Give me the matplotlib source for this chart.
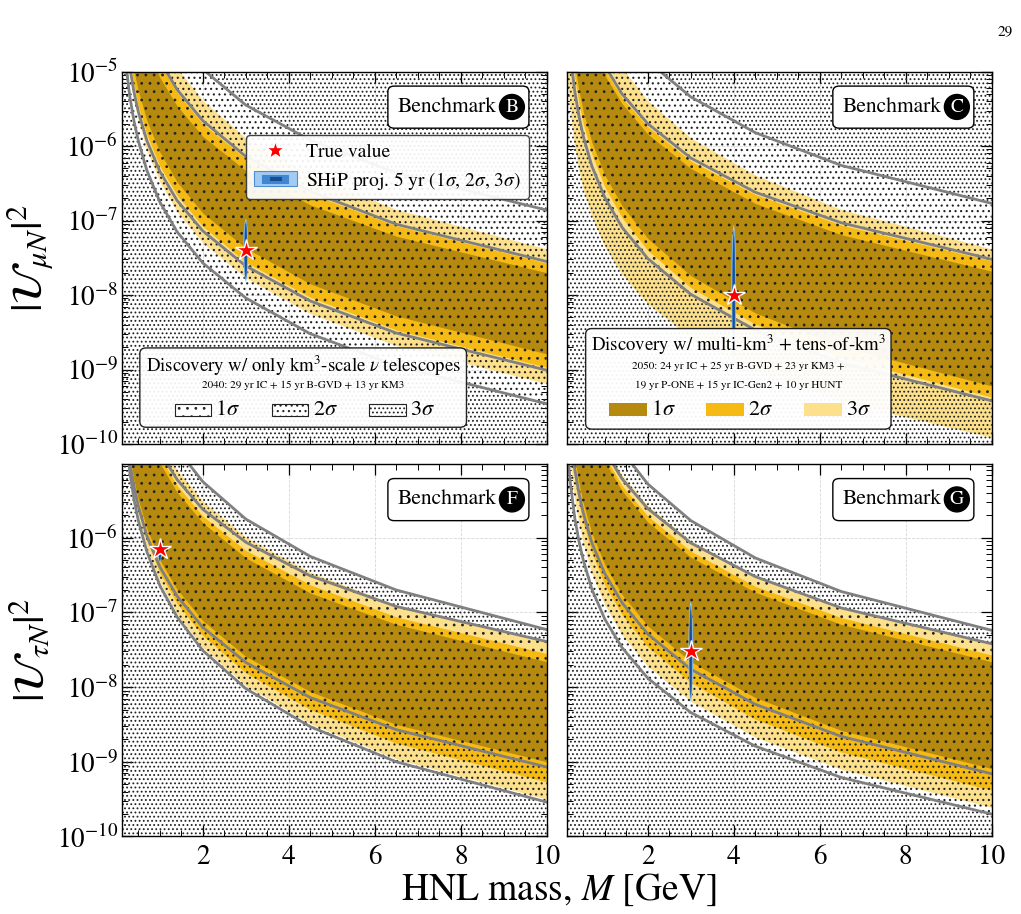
import matplotlib
matplotlib.use("Agg")
import matplotlib.pyplot as plt
import numpy as np
from matplotlib.patches import Rectangle, FancyBboxPatch
from matplotlib.lines import Line2D
from matplotlib.legend_handler import HandlerBase
from matplotlib.ticker import MultipleLocator, LogLocator, FixedLocator, NullFormatter

plt.rcParams['font.family'] = 'serif'
plt.rcParams['font.serif'] = ['STIXGeneral']
plt.rcParams['mathtext.fontset'] = 'stix'
plt.rcParams['hatch.linewidth'] = 0.8
plt.rcParams['hatch.color'] = '#222222'

# HNL mass grid [GeV] on which the contours were read
mass = [0.1, 0.15, 0.2, 0.3, 0.4, 0.5, 0.7, 1.0, 1.4, 2.0, 3.0, 4.5, 6.5, 10.0]

# log10 |U|^2
# benchmark B (mu): grey km3 contours a..d, coloured bands 1,2,3 sigma
B_line_a = [-1.46, -1.94, -2.27, -2.75, -3.09, -3.35, -3.74, -4.16, -4.55, -4.97, -5.45, -5.92, -6.36, -6.86]
B_line_b = [-2.15, -2.63, -2.96, -3.44, -3.78, -4.04, -4.43, -4.85, -5.24, -5.66, -6.14, -6.61, -7.05, -7.55]
B_line_c = [-3.67, -4.14, -4.47, -4.94, -5.28, -5.54, -5.93, -6.34, -6.73, -7.14, -7.61, -8.08, -8.51, -9.01]
B_line_d = [-4.04, -4.52, -4.86, -5.33, -5.67, -5.93, -6.33, -6.75, -7.15, -7.57, -8.04, -8.52, -8.95, -9.46]
B_3s_hi = [-1.68, -2.18, -2.54, -3.04, -3.40, -3.67, -4.09, -4.53, -4.95, -5.39, -5.89, -6.39, -6.85, -7.38]
B_2s_hi = [-2.21, -2.68, -3.02, -3.49, -3.82, -4.08, -4.48, -4.89, -5.28, -5.70, -6.17, -6.64, -7.07, -7.57]
B_1s_hi = [-2.46, -2.92, -3.25, -3.71, -4.04, -4.29, -4.67, -5.08, -5.46, -5.87, -6.33, -6.79, -7.21, -7.70]
B_1s_lo = [-3.37, -3.85, -4.19, -4.66, -5.00, -5.26, -5.66, -6.08, -6.48, -6.90, -7.37, -7.85, -8.28, -8.79]
B_2s_lo = [-3.57, -4.05, -4.38, -4.86, -5.20, -5.46, -5.85, -6.27, -6.66, -7.08, -7.56, -8.03, -8.47, -8.97]
B_3s_lo = [-3.77, -4.25, -4.59, -5.06, -5.40, -5.66, -6.06, -6.48, -6.88, -7.30, -7.77, -8.25, -8.68, -9.19]

# benchmark C (mu)
C_line_a = [-1.29, -1.77, -2.12, -2.60, -2.94, -3.21, -3.61, -4.03, -4.43, -4.86, -5.34, -5.82, -6.26, -6.77]
C_line_b = [-2.32, -2.78, -3.10, -3.56, -3.89, -4.14, -4.52, -4.92, -5.30, -5.70, -6.16, -6.62, -7.03, -7.52]
C_line_c = [-3.96, -4.44, -4.78, -5.26, -5.60, -5.87, -6.27, -6.69, -7.09, -7.51, -7.99, -8.47, -8.91, -9.42]
C_3s_hi = [-1.68, -2.18, -2.54, -3.04, -3.40, -3.67, -4.09, -4.53, -4.95, -5.39, -5.89, -6.39, -6.85, -7.38]
C_2s_hi = [-2.40, -2.85, -3.17, -3.63, -3.95, -4.20, -4.57, -4.97, -5.35, -5.74, -6.20, -6.65, -7.06, -7.54]
C_1s_hi = [-2.42, -2.88, -3.21, -3.67, -4.00, -4.26, -4.64, -5.05, -5.43, -5.84, -6.30, -6.77, -7.19, -7.68]
C_1s_lo = [-3.56, -4.06, -4.41, -4.91, -5.26, -5.54, -5.95, -6.39, -6.80, -7.24, -7.74, -8.24, -8.69, -9.22]
C_2s_lo = [-3.73, -4.23, -4.58, -5.08, -5.43, -5.70, -6.11, -6.55, -6.96, -7.40, -7.90, -8.39, -8.84, -9.37]
C_3s_lo = [-4.79, -5.24, -5.56, -6.01, -6.33, -6.58, -6.95, -7.35, -7.72, -8.12, -8.57, -9.02, -9.43, -9.91]

# benchmark F (tau)
F_line_a = [-1.57, -2.07, -2.42, -2.92, -3.27, -3.55, -3.96, -4.40, -4.81, -5.25, -5.75, -6.25, -6.70, -7.23]
F_line_b = [-2.31, -2.76, -3.08, -3.52, -3.84, -4.09, -4.46, -4.85, -5.22, -5.62, -6.06, -6.51, -6.92, -7.39]
F_line_c = [-3.71, -4.18, -4.52, -4.99, -5.32, -5.58, -5.98, -6.39, -6.78, -7.20, -7.67, -8.14, -8.57, -9.07]
F_line_d = [-3.74, -4.25, -4.61, -5.12, -5.49, -5.77, -6.19, -6.64, -7.06, -7.51, -8.02, -8.53, -9.00, -9.54]
F_3s_hi = [-2.00, -2.48, -2.81, -3.29, -3.63, -3.89, -4.28, -4.70, -5.09, -5.51, -5.99, -6.46, -6.90, -7.40]
F_2s_hi = [-2.27, -2.74, -3.07, -3.53, -3.86, -4.12, -4.50, -4.91, -5.30, -5.71, -6.17, -6.63, -7.06, -7.55]
F_1s_hi = [-2.34, -2.81, -3.14, -3.61, -3.94, -4.20, -4.59, -5.00, -5.39, -5.80, -6.27, -6.74, -7.16, -7.66]
F_1s_lo = [-3.60, -4.08, -4.41, -4.89, -5.23, -5.49, -5.88, -6.30, -6.69, -7.11, -7.59, -8.06, -8.50, -9.00]
F_2s_lo = [-3.67, -4.16, -4.51, -5.01, -5.36, -5.63, -6.04, -6.47, -6.88, -7.31, -7.81, -8.30, -8.75, -9.27]
F_3s_lo = [-3.68, -4.19, -4.56, -5.07, -5.43, -5.71, -6.14, -6.59, -7.02, -7.47, -7.98, -8.49, -8.96, -9.50]

# benchmark G (tau)
G_line_a = [-1.62, -2.12, -2.47, -2.96, -3.31, -3.58, -3.99, -4.43, -4.84, -5.28, -5.77, -6.27, -6.72, -7.24]
G_line_b = [-2.24, -2.70, -3.02, -3.48, -3.80, -4.05, -4.43, -4.83, -5.21, -5.61, -6.07, -6.52, -6.94, -7.42]
G_line_c = [-3.80, -4.27, -4.61, -5.08, -5.41, -5.67, -6.07, -6.48, -6.87, -7.29, -7.76, -8.23, -8.66, -9.16]
G_line_d = [-4.48, -4.94, -5.27, -5.73, -6.05, -6.30, -6.69, -7.09, -7.47, -7.88, -8.34, -8.79, -9.21, -9.70]
G_3s_hi = [-2.11, -2.58, -2.91, -3.38, -3.71, -3.97, -4.36, -4.77, -5.16, -5.57, -6.04, -6.51, -6.93, -7.43]
G_2s_hi = [-2.25, -2.72, -3.05, -3.52, -3.85, -4.11, -4.50, -4.91, -5.30, -5.71, -6.18, -6.65, -7.07, -7.57]
G_1s_hi = [-2.30, -2.77, -3.11, -3.58, -3.91, -4.17, -4.57, -4.98, -5.37, -5.79, -6.26, -6.73, -7.16, -7.66]
G_1s_lo = [-3.63, -4.11, -4.45, -4.93, -5.27, -5.54, -5.94, -6.36, -6.76, -7.18, -7.66, -8.14, -8.58, -9.09]
G_2s_lo = [-3.88, -4.36, -4.71, -5.19, -5.54, -5.80, -6.20, -6.63, -7.03, -7.46, -7.94, -8.43, -8.87, -9.38]
G_3s_lo = [-4.19, -4.67, -5.01, -5.48, -5.82, -6.08, -6.48, -6.90, -7.30, -7.72, -8.19, -8.67, -9.10, -9.61]

# true values and SHiP projections (log10 centre, half-height of 3 sigma contour in decades)
benchmarks = ['B', 'C', 'F', 'G']
true_mass = [3.0, 4.0, 1.0, 3.0]
true_u2 = [4e-8, 1e-8, 7e-7, 3e-8]
ship_log_centre = [-7.40, -8.00, -6.22, -7.53]
ship_half_dec = [0.42, 0.94, 0.10, 0.67]

C1 = '#b58a0e'
C2 = '#f5bb14'
C3 = '#fce08c'
GREY = '#808080'
HATCH = '#222222'
SHIP = ['#1a4c8e', '#3f86d3', '#a3cbf1']
SPARSE, MEDIUM, DENSE = '..', '...', '....'

m = np.array(mass)
floor = np.full(m.size, 1e-11)
ceil = np.full(m.size, 1e-3)


def u(v):
    return 10.0 ** np.array(v)


def hatch_band(ax, lo, hi, pattern):
    ax.fill_between(m, lo, hi, facecolor='none', edgecolor=HATCH, hatch=pattern,
                    linewidth=0, zorder=1.3)


def draw_panel(ax, lines, bands, top_row):
    a, b, c, d = [u(l) if l is not None else None for l in lines]
    s3hi, s2hi, s1hi, s1lo, s2lo, s3lo = [u(v) for v in bands]
    ax.fill_between(m, s3lo, s3hi, color=C3, lw=0, zorder=1.0)
    ax.fill_between(m, s2lo, s2hi, color=C2, lw=0, zorder=1.1)
    ax.fill_between(m, s1lo, s1hi, color=C1, lw=0, zorder=1.2)

    if d is not None:
        hatch_band(ax, floor, d, DENSE)
        hatch_band(ax, d, c, MEDIUM)
    else:
        hatch_band(ax, floor, c, DENSE)
    hatch_band(ax, c, b, SPARSE)
    if top_row:
        hatch_band(ax, b, a, MEDIUM)
        hatch_band(ax, a, ceil, DENSE)
    else:
        hatch_band(ax, b, a, DENSE)

    for line in (a, b, c, d):
        if line is not None:
            ax.plot(m, line, color=GREY, lw=2.0, zorder=2.5)


def draw_ship(ax, i):
    t = np.linspace(0, 2 * np.pi, 120)
    widths = [0.055, 0.04, 0.025] if benchmarks[i] != 'F' else [0.04, 0.03, 0.02]
    for col, w, fh in zip(SHIP[::-1], widths, [1.0, 0.93, 0.85]):
        xs = true_mass[i] + w * np.cos(t)
        ys = 10.0 ** (ship_log_centre[i] + fh * ship_half_dec[i] * np.sin(t))
        ax.fill(xs, ys, color=col, lw=0, zorder=5)
    ax.plot(true_mass[i], true_u2[i], marker='*', ms=16, color='red', mec='white',
            mew=1.0, ls='none', zorder=6)


def benchmark_box(ax, letter):
    ax.add_patch(FancyBboxPatch((0.626, 0.848), 0.332, 0.113,
                                boxstyle='round,pad=0,rounding_size=0.015',
                                transform=ax.transAxes, fc='white', ec='black',
                                lw=1.0, zorder=10))
    ax.text(0.765, 0.905, 'Benchmark', transform=ax.transAxes, ha='center',
            va='center', fontsize=15.5, zorder=11)
    ax.text(0.918, 0.905, letter, transform=ax.transAxes, ha='center', va='center',
            fontsize=14, color='white', zorder=12,
            bbox=dict(boxstyle='circle,pad=0.2', fc='black', ec='black'))


class ShipProxy:
    pass


class ShipHandler(HandlerBase):
    def create_artists(self, legend, orig_handle, xdescent, ydescent, width,
                       height, fontsize, trans):
        out = []
        specs = [(1.0, 1.0, SHIP[2], '#4d8fd6'), (0.6, 0.5, SHIP[1], SHIP[1]),
                 (0.25, 0.2, SHIP[0], SHIP[0])]
        for fw, fh, fc, ec in specs:
            w, h = width * fw, height * fh
            r = Rectangle((-xdescent + (width - w) / 2, -ydescent + (height - h) / 2),
                          w, h, fc=fc, ec=ec, lw=0.8, transform=trans)
            out.append(r)
        return out


def km3_legend(ax):
    ax.add_patch(FancyBboxPatch((0.042, 0.045), 0.769, 0.213,
                                boxstyle='round,pad=0,rounding_size=0.015',
                                transform=ax.transAxes, fc=(1, 1, 1, 0.93),
                                ec='#222222', lw=1.0, zorder=10))
    ax.text(0.4265, 0.211, r'Discovery w/ only km$^3$-scale $\nu$ telescopes',
            transform=ax.transAxes, ha='center', va='center', fontsize=13.5, zorder=11)
    ax.text(0.4265, 0.157, '2040: 29 yr IC + 15 yr B-GVD + 13 yr KM3',
            transform=ax.transAxes, ha='center', va='center', fontsize=8, zorder=11)
    for x0, pat, lab in zip([0.124, 0.353, 0.582], [SPARSE, MEDIUM, DENSE],
                            [r'$1\sigma$', r'$2\sigma$', r'$3\sigma$']):
        ax.add_patch(Rectangle((x0, 0.076), 0.086, 0.031, transform=ax.transAxes,
                               fc='white', ec=HATCH, lw=0.8, hatch=pat, zorder=11))
        ax.text(x0 + 0.096, 0.091, lab, transform=ax.transAxes, ha='left',
                va='center', fontsize=16, zorder=11)


def multi_legend(ax):
    ax.add_patch(FancyBboxPatch((0.044, 0.04), 0.719, 0.27,
                                boxstyle='round,pad=0,rounding_size=0.015',
                                transform=ax.transAxes, fc=(1, 1, 1, 0.95),
                                ec='#222222', lw=1.0, zorder=10))
    ax.text(0.4035, 0.265, r'Discovery w/ multi-km$^3$ + tens-of-km$^3$',
            transform=ax.transAxes, ha='center', va='center', fontsize=13.5, zorder=11)
    ax.text(0.4035, 0.208, '2050: 24 yr IC + 25 yr B-GVD + 23 yr KM3 +',
            transform=ax.transAxes, ha='center', va='center', fontsize=8, zorder=11)
    ax.text(0.4035, 0.157, '19 yr P-ONE + 15 yr IC-Gen2 + 10 yr HUNT',
            transform=ax.transAxes, ha='center', va='center', fontsize=8, zorder=11)
    for x0, col, lab in zip([0.099, 0.328, 0.559], [C1, C2, C3],
                            [r'$1\sigma$', r'$2\sigma$', r'$3\sigma$']):
        ax.add_patch(Rectangle((x0, 0.074), 0.089, 0.036, transform=ax.transAxes,
                               fc=col, ec='none', zorder=11))
        ax.text(x0 + 0.099, 0.091, lab, transform=ax.transAxes, ha='left',
                va='center', fontsize=16, zorder=11)


fig = plt.figure(figsize=(10.21, 9.14), dpi=100)
W, H = 0.4160, 0.4075
axes = [fig.add_axes([0.1195, 0.5142, W, H]),
        fig.add_axes([0.5553, 0.5142, W, H]),
        fig.add_axes([0.1195, 0.0848, W, H]),
        fig.add_axes([0.5553, 0.0848, W, H])]

panel_lines = [(B_line_a, B_line_b, B_line_c, B_line_d),
               (C_line_a, C_line_b, C_line_c, None),
               (F_line_a, F_line_b, F_line_c, F_line_d),
               (G_line_a, G_line_b, G_line_c, G_line_d)]
panel_bands = [(B_3s_hi, B_2s_hi, B_1s_hi, B_1s_lo, B_2s_lo, B_3s_lo),
               (C_3s_hi, C_2s_hi, C_1s_hi, C_1s_lo, C_2s_lo, C_3s_lo),
               (F_3s_hi, F_2s_hi, F_1s_hi, F_1s_lo, F_2s_lo, F_3s_lo),
               (G_3s_hi, G_2s_hi, G_1s_hi, G_1s_lo, G_2s_lo, G_3s_lo)]

for i, ax in enumerate(axes):
    top_row = i < 2
    draw_panel(ax, panel_lines[i], panel_bands[i], top_row)
    draw_ship(ax, i)
    benchmark_box(ax, benchmarks[i])

    ax.set_yscale('log')
    ax.set_xlim(0.12, 10)
    ax.set_ylim(1e-10, 1e-5 if top_row else 0.97e-5)
    ax.xaxis.set_major_locator(FixedLocator([2, 4, 6, 8, 10]))
    ax.xaxis.set_minor_locator(MultipleLocator(0.5))
    decades = [1e-10, 1e-9, 1e-8, 1e-7, 1e-6, 1e-5] if top_row else [1e-10, 1e-9, 1e-8, 1e-7, 1e-6]
    ax.yaxis.set_major_locator(FixedLocator(decades))
    ax.yaxis.set_minor_locator(LogLocator(base=10, subs=np.arange(2, 10), numticks=100))
    ax.yaxis.set_minor_formatter(NullFormatter())
    ax.tick_params(which='both', direction='in', top=True, right=True)
    ax.tick_params(which='major', length=8, width=0.9, labelsize=19.5)
    ax.tick_params(axis='x', which='major', pad=6)
    ax.tick_params(axis='y', which='major', pad=3)
    ax.tick_params(which='minor', length=4, width=0.7)
    ax.set_axisbelow(True)
    ax.grid(True, which='major', ls='--', lw=0.6, color='#d8d8d8')
    if top_row:
        ax.tick_params(labelbottom=False)
    if i % 2 == 1:
        ax.tick_params(labelleft=False)
    for sp in ax.spines.values():
        sp.set_linewidth(1.0)
        sp.set_zorder(20)

# legends
star = Line2D([], [], marker='*', ms=14, color='red', mec='white', ls='none')
axes[0].legend([star, ShipProxy()],
               ['True value', r'SHiP proj. 5 yr ($1\sigma$, $2\sigma$, $3\sigma$)'],
               handler_map={ShipProxy: ShipHandler()}, loc='upper right',
               bbox_to_anchor=(0.958, 0.83), borderaxespad=0, fontsize=14,
               framealpha=0.93, edgecolor='#333333', fancybox=True, handlelength=2.2,
               handleheight=0.8, borderpad=0.4, labelspacing=0.45,
               handletextpad=0.5).set_zorder(15)
km3_legend(axes[0])
multi_legend(axes[1])

fig.text(0.03, 0.5142 + H / 2, r'$|\mathcal{U}_{\mu N}|^2$', rotation=90,
         ha='center', va='center', fontsize=31)
fig.text(0.03, 0.0848 + H / 2, r'$|\mathcal{U}_{\tau N}|^2$', rotation=90,
         ha='center', va='center', fontsize=31)
fig.text(0.547, 0.0153, r'HNL mass, $M$ [GeV]', ha='center', va='baseline', fontsize=27)
fig.text(0.992, 0.965, '29', ha='right', va='center', fontsize=11)

fig.savefig('out.png', dpi=100)
